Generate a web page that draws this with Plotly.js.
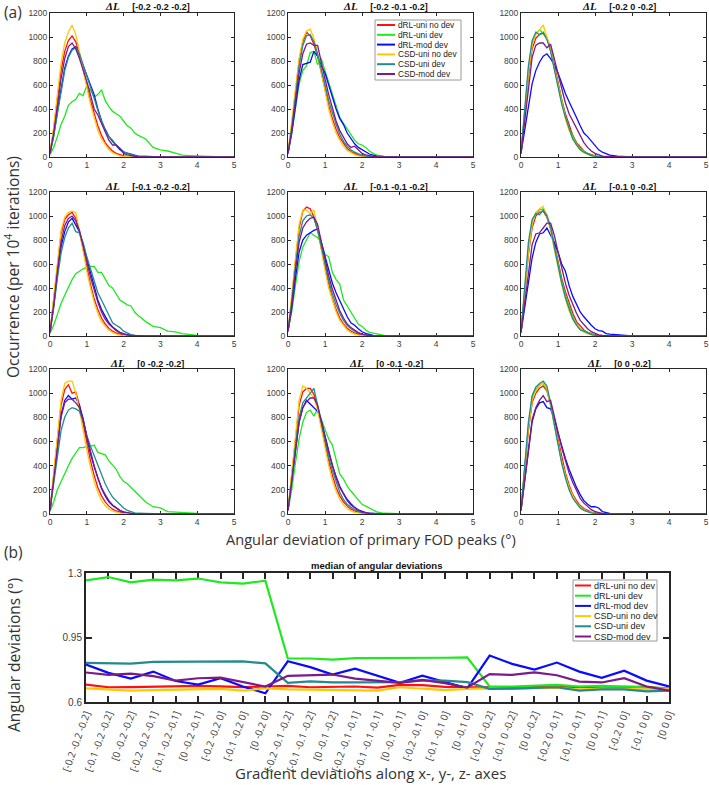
<!DOCTYPE html>
<html><head><meta charset="utf-8">
<script src="https://cdn.plot.ly/plotly-3.0.1.min.js"></script>
<style>html,body{margin:0;padding:0;background:#fff}#chart{width:709px;height:785px}</style>
</head><body><div id="chart"></div>
<script>
// ---------- DATA ----------
const seriesNames = ['dRL-uni no dev','dRL-uni dev','dRL-mod dev','CSD-uni no dev','CSD-uni dev','CSD-mod dev'];
const seriesColors = ['#ff1010','#1fe81f','#0a0aff','#ffc800','#238b8b','#7b1a8a'];
const angleBins = [0,0.1,0.2,0.3,0.4,0.5,0.6,0.7,0.8,0.9, 1.0,1.1,1.2,1.3,1.4,1.5,1.6,1.7,1.8,1.9, 2.0,2.1,2.2,2.3,2.4, 2.6,2.8,3.0,3.2,3.4,3.6,3.8,4.0,4.5,5.0];
const panelTitles = ['[-0.2 -0.2 -0.2]','[-0.2 -0.1 -0.2]','[-0.2 0 -0.2]','[-0.1 -0.2 -0.2]','[-0.1 -0.1 -0.2]','[-0.1 0 -0.2]','[0 -0.2 -0.2]','[0 -0.1 -0.2]','[0 0 -0.2]'];
const xTicksA = [0,1,2,3,4,5];
const yTicksA = [0,200,400,600,800,1000,1200];

// panel 1  [-0.2 -0.2 -0.2]
const p1_dRLuni_nodev = [30,230,480,720,880,970,1010,960,860,720, 600,470,360,260,180,120,80,50,30,18, 10,6,4,2,1, 0,0,0,0,0,0,0,0,0,0];
const p1_dRLuni_dev   = [20,80,170,270,340,430,460,480,530,510, 595,560,500,520,560,470,420,380,360,340, 300,260,240,200,180, 150,80,60,50,30,15,12,8,3,0];
const p1_dRLmod_dev   = [30,180,380,580,740,840,900,920,850,760, 680,600,520,400,300,230,170,130,90,60, 40,30,25,15,8, 4,2,0,0,0,0,0,0,0,0];
const p1_CSDuni_nodev = [30,250,520,780,950,1040,1100,1020,880,720, 580,440,320,220,150,100,60,35,20,10, 5,3,1,0,0, 0,0,0,0,0,0,0,0,0,0];
const p1_CSDuni_dev   = [30,170,360,560,720,830,890,910,860,770, 680,590,490,390,300,220,170,140,100,70, 45,30,20,12,8, 4,0,0,0,0,0,0,0,0,0];
const p1_CSDmod_dev   = [30,200,420,650,820,920,950,900,820,730, 630,520,400,350,280,200,140,100,100,70, 30,18,10,5,3, 0,0,0,0,0,0,0,0,0,0];
// panel 2  [-0.2 -0.1 -0.2]
const p2_dRLuni_nodev = [30,260,540,800,960,1040,1010,940,840,700, 560,430,320,230,160,110,70,45,28,15, 8,5,3,1,0, 0,0,0,0,0,0,0,0,0,0];
const p2_dRLuni_dev   = [30,190,400,610,720,760,870,880,770,820, 720,620,520,420,330,280,230,180,140,110, 100,80,50,30,15, 5,2,0,0,0,0,0,0,0,0];
const p2_dRLmod_dev   = [30,200,420,640,770,780,790,880,840,760, 700,600,490,400,320,270,200,150,110,80, 60,40,25,15,8, 3,1,0,0,0,0,0,0,0,0];
const p2_CSDuni_nodev = [30,280,560,820,980,1050,1065,990,860,700, 540,400,290,200,140,90,55,35,20,10, 5,3,1,0,0, 0,0,0,0,0,0,0,0,0,0];
const p2_CSDuni_dev   = [30,240,500,760,930,1010,1020,960,860,720, 600,470,360,270,190,130,90,60,40,25, 14,8,4,2,1, 0,0,0,0,0,0,0,0,0,0];
const p2_CSDmod_dev   = [30,220,460,700,860,940,950,930,930,780, 650,520,400,300,220,160,110,80,90,60, 30,18,10,5,2, 0,0,0,0,0,0,0,0,0,0];
// panel 3  [-0.2 0 -0.2]
const p3_dRLuni_nodev = [30,340,680,900,990,1020,1040,990,910,770, 620,480,360,260,180,120,80,50,30,17, 10,5,2,1,0, 0,0,0,0,0,0,0,0,0,0];
const p3_dRLuni_dev   = [30,360,720,950,1030,1060,1030,990,890,740, 600,460,340,240,170,110,70,45,28,15, 8,4,2,0,0, 0,0,0,0,0,0,0,0,0,0];
const p3_dRLmod_dev   = [30,230,440,610,720,790,840,860,820,770, 700,610,530,460,400,330,260,200,170,130, 90,60,40,25,15, 8,3,1,0,0,0,0,0,0,0];
const p3_CSDuni_nodev = [30,350,700,930,1020,1060,1100,1000,900,740, 590,440,320,220,150,100,60,35,20,10, 5,2,1,0,0, 0,0,0,0,0,0,0,0,0,0];
const p3_CSDuni_dev   = [30,380,760,970,1040,1020,1030,980,880,730, 580,440,330,230,150,100,60,40,25,12, 6,3,1,0,0, 0,0,0,0,0,0,0,0,0,0];
const p3_CSDmod_dev   = [30,300,600,830,930,950,950,910,940,820, 690,570,450,360,300,230,170,120,80,50, 30,16,8,4,2, 0,0,0,0,0,0,0,0,0,0];
// panel 4  [-0.1 -0.2 -0.2]
const p4_dRLuni_nodev = [30,290,600,850,970,1010,1030,980,870,720, 570,430,310,220,150,100,65,40,25,14, 8,4,2,1,0, 0,0,0,0,0,0,0,0,0,0];
const p4_dRLuni_dev   = [20,90,180,270,340,410,470,520,540,560, 570,580,580,530,530,470,420,400,350,300, 280,260,250,200,170, 120,80,70,40,35,20,10,5,2,0];
const p4_dRLmod_dev   = [30,250,520,740,870,950,980,930,870,760, 640,520,400,300,220,160,110,75,50,30, 18,10,5,2,1, 0,0,0,0,0,0,0,0,0,0];
const p4_CSDuni_nodev = [30,300,620,880,990,1030,1040,1030,880,700, 540,400,280,190,120,80,50,30,15,8, 4,2,1,0,0, 0,0,0,0,0,0,0,0,0,0];
const p4_CSDuni_dev   = [30,230,480,690,820,900,940,870,860,780, 660,560,460,360,300,240,170,110,90,70, 40,25,12,6,3, 1,0,0,0,0,0,0,0,0,0];
const p4_CSDmod_dev   = [30,260,540,780,920,980,1000,960,880,760, 620,490,380,280,200,140,100,70,45,28, 16,8,4,2,1, 0,0,0,0,0,0,0,0,0,0];
// panel 5  [-0.1 -0.1 -0.2]
const p5_dRLuni_nodev = [40,300,620,900,1040,1075,1060,990,880,720, 570,430,310,220,150,100,65,40,25,14, 8,4,2,1,0, 0,0,0,0,0,0,0,0,0,0];
const p5_dRLuni_dev   = [40,200,420,620,740,800,860,840,820,780, 680,660,530,470,430,300,250,190,150,100, 80,50,30,25,15, 6,2,0,0,0,0,0,0,0,0];
const p5_dRLmod_dev   = [40,230,480,700,800,840,860,880,890,780, 660,540,440,360,290,220,160,110,90,60, 35,22,12,6,3, 1,0,0,0,0,0,0,0,0,0];
const p5_CSDuni_nodev = [40,330,660,930,1050,1050,1020,1050,900,720, 550,400,290,200,130,85,50,30,15,8, 4,2,1,0,0, 0,0,0,0,0,0,0,0,0,0];
const p5_CSDuni_dev   = [40,280,580,830,960,1000,1010,980,890,750, 600,460,350,260,190,130,90,60,40,25, 14,8,4,2,1, 0,0,0,0,0,0,0,0,0,0];
const p5_CSDmod_dev   = [40,260,540,780,900,950,980,990,930,790, 640,500,390,290,210,150,100,70,45,28, 16,8,4,2,1, 0,0,0,0,0,0,0,0,0,0];
// panel 6  [-0.1 0 -0.2]
const p6_dRLuni_nodev = [30,340,680,900,1000,1030,1040,990,900,770, 610,480,370,270,190,120,80,50,30,18, 10,5,2,1,0, 0,0,0,0,0,0,0,0,0,0];
const p6_dRLuni_dev   = [30,360,720,940,1020,1050,1060,1010,910,760, 600,460,340,240,160,100,60,45,30,15, 8,4,2,0,0, 0,0,0,0,0,0,0,0,0,0];
const p6_dRLmod_dev   = [30,230,450,650,780,850,860,900,840,780, 700,600,540,420,330,270,200,160,120,90, 60,45,40,20,15, 8,3,0,0,0,0,0,0,0,0];
const p6_CSDuni_nodev = [30,350,700,930,1030,1060,1080,1000,880,720, 570,430,310,210,140,90,55,32,18,10, 5,2,1,0,0, 0,0,0,0,0,0,0,0,0,0];
const p6_CSDuni_dev   = [30,400,780,970,1020,1010,1050,1000,900,740, 580,440,320,220,140,90,50,40,25,12, 6,3,1,0,0, 0,0,0,0,0,0,0,0,0,0];
const p6_CSDmod_dev   = [30,280,560,760,850,860,900,940,940,840, 700,560,440,340,260,190,130,90,60,36, 20,10,5,2,1, 0,0,0,0,0,0,0,0,0,0];
// panel 7  [0 -0.2 -0.2]
const p7_dRLuni_nodev = [30,310,640,900,1030,1070,1000,1010,900,740, 580,440,320,220,150,100,65,40,25,14, 8,4,2,1,0, 0,0,0,0,0,0,0,0,0,0];
const p7_dRLuni_dev   = [20,100,200,270,330,400,460,510,550,550, 560,560,570,510,500,490,440,400,370,310, 270,250,220,190,160, 100,60,50,20,15,10,5,5,0,0];
const p7_dRLmod_dev   = [30,290,580,820,940,980,950,960,900,790, 640,500,390,290,210,150,100,70,45,28, 16,8,4,2,1, 0,0,0,0,0,0,0,0,0,0];
const p7_CSDuni_nodev = [30,330,680,940,1080,1100,1100,1000,860,690, 530,390,270,180,110,70,40,25,14,8, 4,2,1,0,0, 0,0,0,0,0,0,0,0,0,0];
const p7_CSDuni_dev   = [30,230,470,690,800,860,880,870,850,770, 650,560,480,410,330,250,190,140,110,80, 50,30,18,10,6, 2,0,0,0,0,0,0,0,0,0];
const p7_CSDmod_dev   = [30,280,560,800,920,950,950,920,880,780, 640,510,400,300,220,160,110,75,50,30, 18,10,5,2,1, 0,0,0,0,0,0,0,0,0,0];
// panel 8  [0 -0.1 -0.2]
const p8_dRLuni_nodev = [30,320,650,900,1010,1040,1040,990,880,730, 580,440,320,220,150,100,65,40,25,14, 8,4,2,1,0, 0,0,0,0,0,0,0,0,0,0];
const p8_dRLuni_dev   = [30,200,420,620,760,840,860,810,870,780, 700,620,570,450,330,290,230,190,150,110, 80,65,50,30,18, 6,2,0,0,0,0,0,0,0,0];
const p8_dRLmod_dev   = [30,260,530,760,880,940,910,880,850,770, 650,520,400,310,230,170,120,85,55,35, 22,12,6,3,1, 0,0,0,0,0,0,0,0,0,0];
const p8_CSDuni_nodev = [30,340,690,940,1060,1040,1000,960,860,700, 540,400,280,190,120,75,45,25,14,8, 4,2,1,0,0, 0,0,0,0,0,0,0,0,0,0];
const p8_CSDuni_dev   = [30,270,560,800,920,960,1000,1040,900,760, 610,470,360,260,180,120,80,55,35,20, 12,6,3,1,0, 0,0,0,0,0,0,0,0,0,0];
const p8_CSDmod_dev   = [30,260,530,760,880,930,960,960,900,780, 640,510,400,300,220,160,110,75,50,30, 18,10,5,2,1, 0,0,0,0,0,0,0,0,0,0];
// panel 9  [0 0 -0.2]
const p9_dRLuni_nodev = [30,340,690,920,1000,1040,1060,1020,910,760, 610,460,340,240,160,110,70,45,28,16, 8,4,2,1,0, 0,0,0,0,0,0,0,0,0,0];
const p9_dRLuni_dev   = [30,360,730,960,1030,1070,1080,1030,900,740, 580,430,310,210,140,90,55,33,20,10, 5,2,1,0,0, 0,0,0,0,0,0,0,0,0,0];
const p9_dRLmod_dev   = [30,270,540,760,870,920,930,880,870,790, 670,560,460,370,290,220,160,110,80,60, 60,50,20,10,5, 2,0,0,0,0,0,0,0,0,0];
const p9_CSDuni_nodev = [30,350,710,940,1020,1060,1090,1040,910,750, 590,440,320,220,150,95,60,36,22,12, 6,3,1,0,0, 0,0,0,0,0,0,0,0,0,0];
const p9_CSDuni_dev   = [30,380,760,980,1050,1080,1100,1060,920,740, 570,420,300,200,130,85,50,30,18,10, 5,2,1,0,0, 0,0,0,0,0,0,0,0,0,0];
const p9_CSDmod_dev   = [30,280,560,780,880,940,980,930,940,820, 680,550,440,340,260,190,130,90,60,36, 20,10,5,2,1, 0,0,0,0,0,0,0,0,0,0];

// (b) medians
const gradLabels = ['[-0.2 -0.2 -0.2]','[-0.1 -0.2 -0.2]','[0 -0.2 -0.2]','[-0.2 -0.2 -0.1]','[-0.1 -0.2 -0.1]','[0 -0.2 -0.1]','[-0.2 -0.2 0]','[-0.1 -0.2 0]','[0 -0.2 0]',
  '[-0.2 -0.1 -0.2]','[-0.1 -0.1 -0.2]','[0 -0.1 -0.2]','[-0.2 -0.1 -0.1]','[-0.1 -0.1 -0.1]','[0 -0.1 -0.1]','[-0.2 -0.1 0]','[-0.1 -0.1 0]','[0 -0.1 0]',
  '[-0.2 0 -0.2]','[-0.1 0 -0.2]','[0 0 -0.2]','[-0.2 0 -0.1]','[-0.1 0 -0.1]','[0 0 -0.1]','[-0.2 0 0]','[-0.1 0 0]','[0 0 0]'];
const med_dRLuni_nodev = [0.694,0.680,0.681,0.684,0.687,0.687,0.685,0.681,0.684, 0.687,0.680,0.680,0.684,0.678,0.693,0.692,0.682,0.680, 0.680,0.678,0.682,0.682,0.680,0.682,0.682,0.682,0.671];
const med_dRLuni_dev   = [1.260,1.278,1.249,1.264,1.260,1.270,1.249,1.242,1.258, 0.836,0.836,0.830,0.838,0.838,0.836,0.836,0.840,0.842, 0.684,0.684,0.690,0.693,0.684,0.687,0.684,0.680,0.674];
const med_dRLmod_dev   = [0.803,0.758,0.727,0.765,0.714,0.694,0.729,0.684,0.647, 0.821,0.789,0.749,0.781,0.742,0.704,0.743,0.708,0.674, 0.852,0.807,0.776,0.814,0.765,0.731,0.770,0.716,0.685];
const med_CSDuni_nodev = [0.674,0.667,0.662,0.664,0.667,0.669,0.671,0.662,0.674, 0.669,0.667,0.667,0.666,0.662,0.680,0.674,0.664,0.671, 0.674,0.671,0.674,0.678,0.667,0.673,0.671,0.667,0.671];
const med_CSDuni_dev   = [0.812,0.808,0.808,0.818,0.818,0.818,0.818,0.820,0.810, 0.704,0.712,0.706,0.706,0.708,0.708,0.716,0.716,0.708, 0.671,0.673,0.678,0.680,0.662,0.669,0.669,0.658,0.662];
const med_CSDmod_dev   = [0.760,0.747,0.754,0.740,0.716,0.729,0.732,0.709,0.684, 0.742,0.744,0.749,0.727,0.716,0.704,0.720,0.702,0.678, 0.751,0.747,0.761,0.745,0.711,0.706,0.729,0.684,0.662];
const yTicksB = [0.6,0.95,1.3];

// ---------- BUILD ----------
const panels = [
  [p1_dRLuni_nodev,p1_dRLuni_dev,p1_dRLmod_dev,p1_CSDuni_nodev,p1_CSDuni_dev,p1_CSDmod_dev],
  [p2_dRLuni_nodev,p2_dRLuni_dev,p2_dRLmod_dev,p2_CSDuni_nodev,p2_CSDuni_dev,p2_CSDmod_dev],
  [p3_dRLuni_nodev,p3_dRLuni_dev,p3_dRLmod_dev,p3_CSDuni_nodev,p3_CSDuni_dev,p3_CSDmod_dev],
  [p4_dRLuni_nodev,p4_dRLuni_dev,p4_dRLmod_dev,p4_CSDuni_nodev,p4_CSDuni_dev,p4_CSDmod_dev],
  [p5_dRLuni_nodev,p5_dRLuni_dev,p5_dRLmod_dev,p5_CSDuni_nodev,p5_CSDuni_dev,p5_CSDmod_dev],
  [p6_dRLuni_nodev,p6_dRLuni_dev,p6_dRLmod_dev,p6_CSDuni_nodev,p6_CSDuni_dev,p6_CSDmod_dev],
  [p7_dRLuni_nodev,p7_dRLuni_dev,p7_dRLmod_dev,p7_CSDuni_nodev,p7_CSDuni_dev,p7_CSDmod_dev],
  [p8_dRLuni_nodev,p8_dRLuni_dev,p8_dRLmod_dev,p8_CSDuni_nodev,p8_CSDuni_dev,p8_CSDmod_dev],
  [p9_dRLuni_nodev,p9_dRLuni_dev,p9_dRLmod_dev,p9_CSDuni_nodev,p9_CSDuni_dev,p9_CSDmod_dev]
];
const medians = [med_dRLuni_nodev,med_dRLuni_dev,med_dRLmod_dev,med_CSDuni_nodev,med_CSDuni_dev,med_CSDmod_dev];

const W = 709, H = 785;
const px = v => v / W, py = v => 1 - v / H;
const colPx = [[50,234],[288,473],[521,706]];
const rowPx = [[13,157],[192,336],[369,514]];
const axisCol = '#262626', tickCol = '#404040';
const tickFont = {family:'Liberation Sans, Arial, sans-serif', size:8.5, color:tickCol};
const bigFont = {family:'Open Sans, Noto Sans, sans-serif', size:15.5, color:'#333'};

const traces = [];
const layout = {
  width: W, height: H, margin: {l:0, r:0, t:0, b:0},
  paper_bgcolor: '#fff', plot_bgcolor: '#fff', showlegend: false,
  annotations: [], shapes: []
};
const axCommon = {showline:true, mirror:'ticks', linecolor:axisCol, linewidth:1, ticks:'inside', ticklen:3,
  tickwidth:1, tickcolor:axisCol, showgrid:false, zeroline:false, tickfont:tickFont, layer:'below traces', fixedrange:true};

panels.forEach((ser, p) => {
  const r = Math.floor(p / 3), c = p % 3, n = p + 1;
  const sfx = n === 1 ? '' : String(n);
  layout['xaxis' + sfx] = Object.assign({}, axCommon, {domain:[px(colPx[c][0]), px(colPx[c][1])], anchor:'y' + sfx,
    range:[0,5], tickmode:'array', tickvals:xTicksA});
  layout['yaxis' + sfx] = Object.assign({}, axCommon, {domain:[py(rowPx[r][1]), py(rowPx[r][0])], anchor:'x' + sfx,
    range:[0,1200], tickmode:'array', tickvals:yTicksA});
  ser.forEach((vals, s) => traces.push({x:angleBins, y:vals, type:'scatter', mode:'lines', name:seriesNames[s],
    xaxis:'x' + sfx, yaxis:'y' + sfx, line:{color:seriesColors[s], width:1.3}, hoverinfo:'skip'}));
  layout.annotations.push({xref:'paper', yref:'paper', x:px((colPx[c][0] + colPx[c][1]) / 2 + 5), y:py(rowPx[r][0] - 6.5),
    xanchor:'center', yanchor:'middle', showarrow:false,
    text:'<span style="font-family:Liberation Serif,DejaVu Serif,serif;font-style:italic;font-weight:bold;font-size:11px">ΔL</span>\u00a0\u00a0\u00a0\u00a0\u00a0<b>' + panelTitles[p] + '</b>',
    font:{family:'Liberation Sans, Arial, sans-serif', size:9, color:'#111'}});
});

// (b) median panel
layout.xaxis10 = Object.assign({}, axCommon, {domain:[px(86), px(669)], anchor:'y10', type:'category',
  range:[0, gradLabels.length - 1], tickmode:'array', tickvals:gradLabels, ticktext:gradLabels, tickangle:-70,
  ticklen:6, tickwidth:2, linewidth:2, tickfont:{family:'Open Sans, Noto Sans, sans-serif', size:10, color:'#444'}});
layout.yaxis10 = Object.assign({}, axCommon, {domain:[py(702), py(573)], anchor:'x10', range:[0.6,1.3],
  tickmode:'array', tickvals:yTicksB, ticktext:['0.6','0.95','1.3'], ticklen:6, tickwidth:2, linewidth:2,
  tickfont:{family:'Liberation Sans, Arial, sans-serif', size:10, color:tickCol}});
medians.forEach((vals, s) => traces.push({x:gradLabels, y:vals, type:'scatter', mode:'lines', name:seriesNames[s],
  xaxis:'x10', yaxis:'y10', line:{color:seriesColors[s], width:2.2}, hoverinfo:'skip'}));

// manual legends (drawn from the series names/colours)
function addLegend(x0, x1, y0, y1, lineX0, lineX1, textX, firstY, step, fsize) {
  layout.shapes.push({type:'rect', xref:'paper', yref:'paper', x0:px(x0), x1:px(x1), y0:py(y1), y1:py(y0),
    line:{color:'#9a9a9a', width:1}, fillcolor:'#fff', layer:'above'});
  seriesNames.forEach((nm, i) => {
    const yc = firstY + i * step;
    layout.shapes.push({type:'line', xref:'paper', yref:'paper', x0:px(lineX0), x1:px(lineX1), y0:py(yc), y1:py(yc),
      line:{color:seriesColors[i], width:2}, layer:'above'});
    layout.annotations.push({xref:'paper', yref:'paper', x:px(textX), y:py(yc), xanchor:'left', yanchor:'middle',
      showarrow:false, text:nm, font:{family:'Liberation Sans, Arial, sans-serif', size:fsize, color:'#222'}});
  });
}
addLegend(375, 461, 20, 80, 377, 395, 396, 25, 9.8, 8.3);
addLegend(573, 657, 580, 641, 575, 591, 591.5, 585.5, 10.2, 9);

// texts
const A = layout.annotations;
A.push({xref:'paper', yref:'paper', x:px(2), y:py(12), xanchor:'left', yanchor:'middle', showarrow:false, text:'(a)', font:bigFont});
A.push({xref:'paper', yref:'paper', x:px(2), y:py(552), xanchor:'left', yanchor:'middle', showarrow:false, text:'(b)', font:bigFont});
A.push({xref:'paper', yref:'paper', x:px(12), y:py(267), xanchor:'center', yanchor:'middle', textangle:-90, showarrow:false,
  text:'Occurrence (per 10<sup>4</sup> iterations)', font:bigFont});
A.push({xref:'paper', yref:'paper', x:px(371), y:py(538.5), xanchor:'center', yanchor:'middle', showarrow:false,
  text:'Angular deviation of primary FOD peaks (°)', font:Object.assign({}, bigFont, {size:14.6})});
A.push({xref:'paper', yref:'paper', x:px(377), y:py(565), xanchor:'center', yanchor:'middle', showarrow:false,
  text:'<b>median of angular deviations</b>', font:{family:'Liberation Sans, Arial, sans-serif', size:9.5, color:'#111'}});
A.push({xref:'paper', yref:'paper', x:px(14), y:py(655), xanchor:'center', yanchor:'middle', textangle:-90, showarrow:false,
  text:'Angular deviations (°)', font:bigFont});
A.push({xref:'paper', yref:'paper', x:px(370), y:py(773), xanchor:'center', yanchor:'middle', showarrow:false,
  text:'Gradient deviations along x-, y-, z- axes', font:Object.assign({}, bigFont, {size:15})});

Plotly.newPlot('chart', traces, layout, {staticPlot:true, displayModeBar:false});
</script>
</body></html>
